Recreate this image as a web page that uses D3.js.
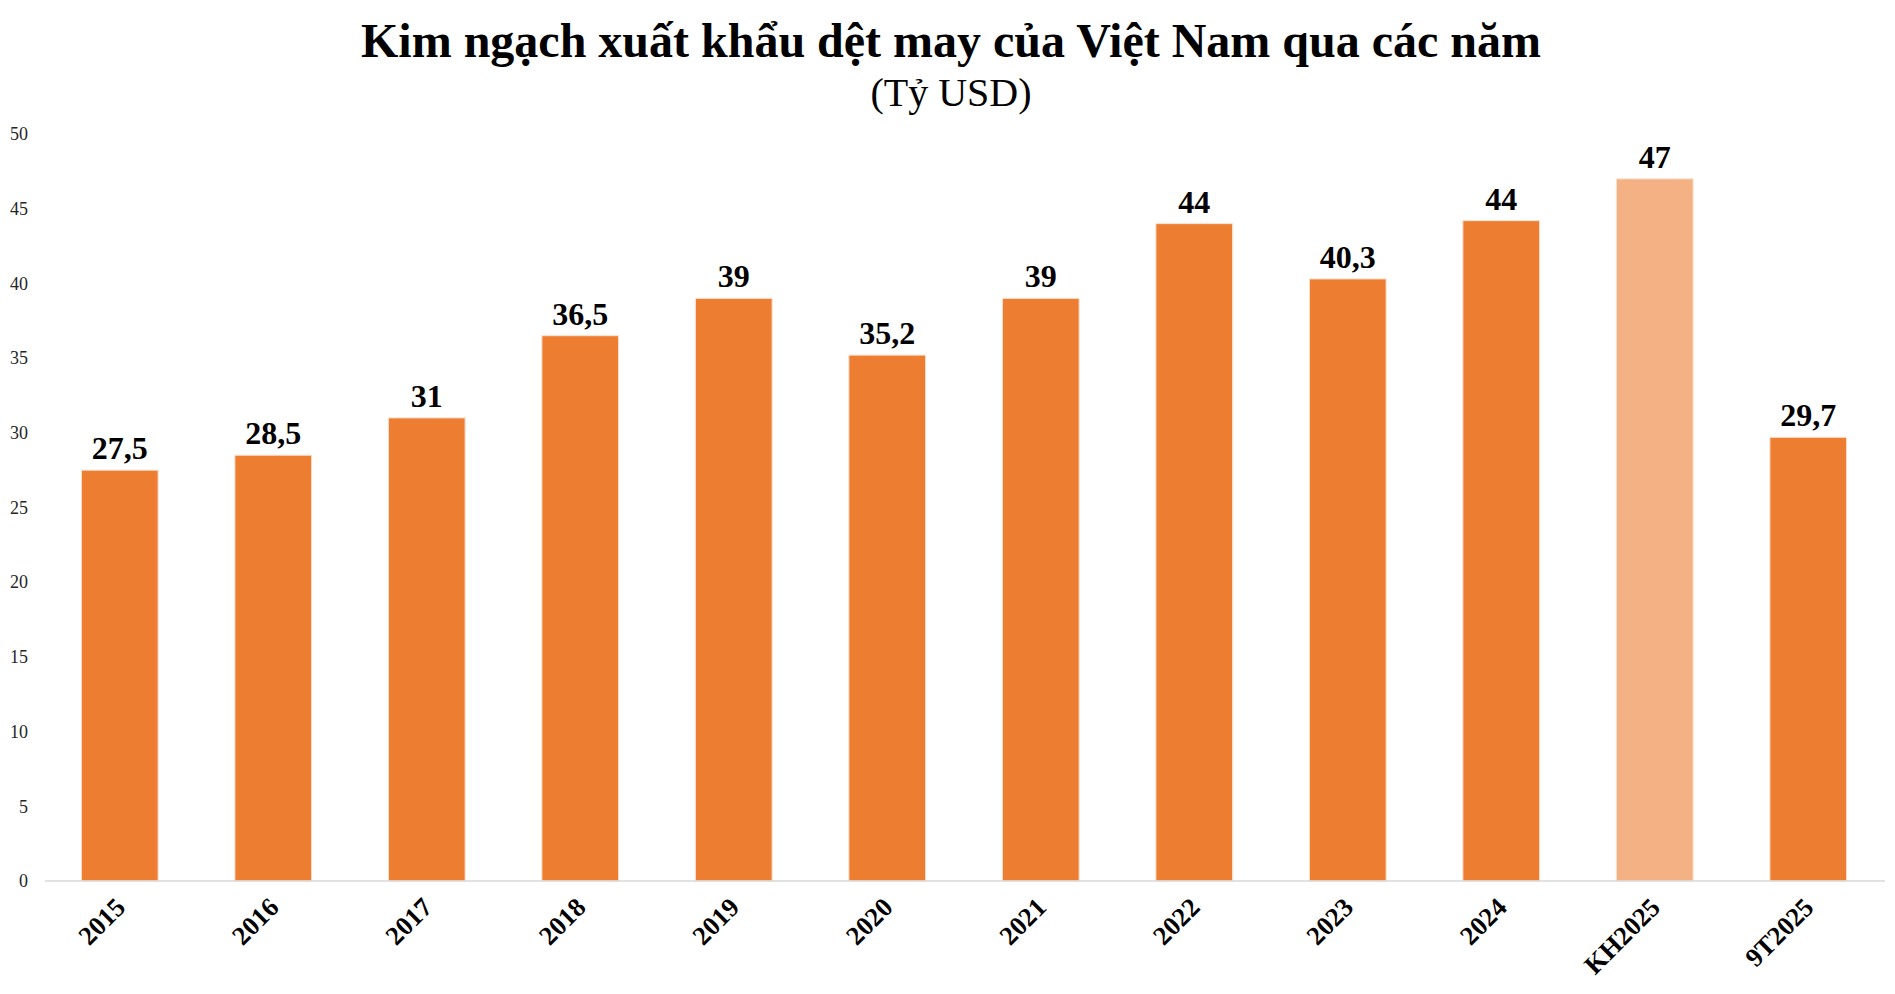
<!DOCTYPE html>
<html>
<head>
<meta charset="utf-8">
<script src="https://cdn.jsdelivr.net/npm/d3@7"></script>
<style>
  body { margin: 0; background: #fff; }
  text { font-family: "Liberation Serif", "Times New Roman", serif; }
</style>
</head>
<body>
<div id="chart"></div>
<script>
// categories and values
const categories = ["2015", "2016", "2017", "2018", "2019", "2020", "2021", "2022", "2023", "2024", "KH2025", "9T2025"];
const values = [27.5, 28.5, 31, 36.5, 39, 35.2, 39, 44, 40.3, 44.2, 47, 29.7];
const valueLabels = ["27,5", "28,5", "31", "36,5", "39", "35,2", "39", "44", "40,3", "44", "47", "29,7"];
const yTicks = [0, 5, 10, 15, 20, 25, 30, 35, 40, 45, 50];

const width = 1895;
const height = 994;

const svg = d3.select("#chart")
    .append("svg")
    .attr("width", width)
    .attr("height", height);

// x and y scales
const x = d3.scaleBand()
    .domain(categories)
    .range([43, 1885])
    .paddingInner(0.5)
    .paddingOuter(0.25);

const y = d3.scaleLinear()
    .domain([0, 50])
    .range([881, 134]);

// title
svg.append("text")
    .attr("x", 951)
    .attr("y", 57)
    .attr("text-anchor", "middle")
    .style("font-size", "48px")
    .style("font-weight", "bold")
    .text("Kim ngạch xuất khẩu dệt may của Việt Nam qua các năm");

svg.append("text")
    .attr("x", 951)
    .attr("y", 106)
    .attr("text-anchor", "middle")
    .style("font-size", "40px")
    .text("(Tỷ USD)");

// y axis labels only, no line
const yAxis = svg.append("g")
    .attr("transform", "translate(28,0)")
    .call(d3.axisLeft(y).tickValues(yTicks).tickSize(0).tickPadding(0));
yAxis.select(".domain").remove();
yAxis.selectAll("text")
    .style("font-family", "'Liberation Serif', serif")
    .style("font-size", "18px")
    .style("fill", "#262626");

// bars
svg.selectAll(".bar")
    .data(values)
    .enter().append("rect")
    .attr("class", "bar")
    .attr("x", (d, i) => x(categories[i]))
    .attr("width", x.bandwidth())
    .attr("y", (d) => y(d))
    .attr("height", (d) => y(0) - y(d))
    .style("fill", (d, i) => categories[i] === "KH2025" ? "#F4B183" : "#ED7D31")
    .style("stroke", "#fbe3d3")
    .style("stroke-width", 1);

// baseline
svg.append("line")
    .attr("x1", 45)
    .attr("x2", 1885)
    .attr("y1", y(0))
    .attr("y2", y(0))
    .style("stroke", "#d9d9d9")
    .style("stroke-width", 1.5);

// value labels
svg.selectAll(".val")
    .data(values)
    .enter().append("text")
    .attr("class", "val")
    .attr("x", (d, i) => x(categories[i]) + x.bandwidth() / 2)
    .attr("y", (d) => y(d) - 11)
    .attr("text-anchor", "middle")
    .style("font-size", "32px")
    .style("font-weight", "bold")
    .text((d, i) => valueLabels[i]);

// rotated category labels
const xAxis = svg.append("g")
    .attr("transform", `translate(0,${y(0)})`)
    .call(d3.axisBottom(x).tickSize(0).tickPadding(0));
xAxis.select(".domain").remove();
xAxis.selectAll("text")
    .attr("y", 0)
    .attr("dy", 0)
    .attr("transform", "translate(7,28) rotate(-45)")
    .attr("text-anchor", "end")
    .style("font-family", "'Liberation Serif', serif")
    .style("font-size", "26.5px")
    .style("font-weight", "bold")
    .style("fill", "#000");
</script>
</body>
</html>
